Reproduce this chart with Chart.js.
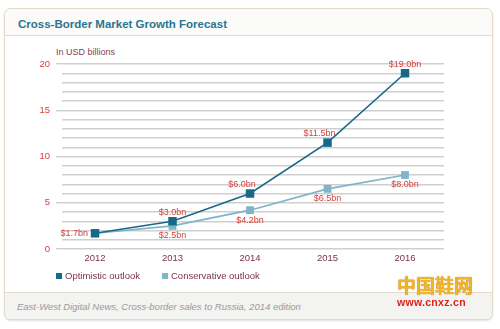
<!DOCTYPE html>
<html>
<head>
<meta charset="utf-8">
<script src="https://cdn.jsdelivr.net/npm/chart.js@4"></script>
<style>
  body { margin: 0; background: #fff; font-family: "Liberation Sans", Arial, sans-serif; }
  .wrap { position: relative; width: 500px; height: 329px; overflow: hidden; }
  .card { position: absolute; left: 4px; top: 8px; width: 487px; height: 310px;
    border: 1px solid #e3d9c6; border-radius: 7px; box-shadow: 0 1px 2px rgba(0,0,0,0.12); background: #fff; }
  .head { position: absolute; left: 0; top: 0; right: 0; height: 26px; border-bottom: 1px solid #e6dccb;
    background: #fbfbfa; border-radius: 7px 7px 0 0; }
  .head span { position: absolute; left: 13px; top: 9px; font-size: 11.5px; font-weight: bold; color: #2b7590; }
  .foot { position: absolute; left: 0; bottom: 0; right: 0; height: 26px; border-top: 1px solid #e6dccb;
    background: #f3f3f2; border-radius: 0 0 7px 7px; }
  .foot span { position: absolute; left: 12px; top: 8px; font-size: 9.5px; font-style: italic; color: #9a9a9a; }
  .unit { position: absolute; left: 56px; top: 47px; font-size: 9px; color: #8a3d55; }
  canvas { position: absolute; left: 0; top: 0; }
  .legend { position: absolute; top: 270px; font-size: 9.5px; color: #7a3050; }
  .legend i { display: inline-block; width: 6px; height: 6px; margin-right: 3px; vertical-align: 0px; }
  .wm { position: absolute; left: 397px; top: 274px; }
  .wm b { display: block; font-size: 19px; line-height: 22px; color: #f0b429; letter-spacing: 0px; text-shadow: 0 0 1px #b06a00; font-family: "Noto Sans CJK SC", sans-serif; }
  .wm em { display: block; font-style: normal; font-weight: bold; font-size: 10.5px; color: #e0211a; margin-top: 0px; letter-spacing: 0.3px; }
</style>
</head>
<body>
<div class="wrap">
  <div class="card">
    <div class="head"><span>Cross-Border Market Growth Forecast</span></div>
    <div class="foot"><span>East-West Digital News, Cross-border sales to Russia, 2014 edition</span></div>
  </div>
  <div class="unit">In USD billions</div>
  <canvas id="c" width="500" height="329"></canvas>
  <div class="legend" style="left:56px"><i style="background:#17698a"></i>Optimistic outlook</div>
  <div class="legend" style="left:162px"><i style="background:#7fb4c9"></i>Conservative outlook</div>
  <div class="wm"><b>中国鞋网</b><em>www.cnxz.cn</em></div>
</div>
<script>
const years = ["2012", "2013", "2014", "2015", "2016"];
const optimistic = [1.7, 3.0, 6.0, 11.5, 19.0];
const conservative = [1.7, 2.5, 4.2, 6.5, 8.0];
const optimisticLabels = ["$1.7bn", "$3.0bn", "$6.0bn", "$11.5bn", "$19.0bn"];
const conservativeLabels = ["", "$2.5bn", "$4.2bn", "$6.5bn", "$8.0bn"];

const valueLabels = {
  id: "valueLabels",
  afterDatasetsDraw(chart) {
    const ctx = chart.ctx;
    ctx.save();
    ctx.font = "9px 'Liberation Sans', Arial, sans-serif";
    ctx.fillStyle = "#d2423a";
    ctx.textAlign = "center";
    ctx.textBaseline = "middle";
    chart.getDatasetMeta(0).data.forEach((p, i) => {
      if (i === 0) {
        ctx.textAlign = "right";
        ctx.fillText(optimisticLabels[i], p.x - 7, p.y);
        ctx.textAlign = "center";
      } else {
        const dx = (i === 2 || i === 3) ? -8 : 0;
        ctx.fillText(optimisticLabels[i], p.x + dx, p.y - 9);
      }
    });
    chart.getDatasetMeta(1).data.forEach((p, i) => {
      if (conservativeLabels[i]) ctx.fillText(conservativeLabels[i], p.x, p.y + 10);
    });
    ctx.restore();
  }
};

new Chart(document.getElementById("c"), {
  type: "line",
  data: {
    datasets: [
      {
        label: "Optimistic outlook",
        data: optimistic.map((v, i) => ({ x: i, y: v })),
        borderColor: "#17698a",
        backgroundColor: "#17698a",
        borderWidth: 1.6,
        pointStyle: "rect",
        pointRadius: 6,
        pointBorderWidth: 0,
        order: 0
      },
      {
        label: "Conservative outlook",
        data: conservative.map((v, i) => ({ x: i, y: v })),
        borderColor: "#7fb4c9",
        backgroundColor: "#7fb4c9",
        borderWidth: 1.6,
        pointStyle: "rect",
        pointRadius: 5.5,
        pointBorderWidth: 0,
        order: 1
      }
    ]
  },
  options: {
    responsive: false,
    animation: false,
    events: [],
    layout: { padding: { left: 0, right: 56, top: 64, bottom: 64 } },
    plugins: { legend: { display: false }, tooltip: { enabled: false } },
    scales: {
      x: {
        type: "linear",
        min: -0.426,
        max: 4.503,
        afterBuildTicks: (s) => { s.ticks = years.map((y, i) => ({ value: i })); },
        afterFit: (s) => { s.height = 16; },
        grid: { display: false, drawTicks: false },
        border: { display: false },
        ticks: {
          callback: (v) => years[v],
          color: "#7a3050",
          padding: 4,
          maxRotation: 0,
          font: { family: "'Liberation Sans', Arial, sans-serif", size: 9.5 }
        }
      },
      y: {
        min: 0,
        max: 20,
        afterFit: (s) => { s.width = 62; },
        border: { display: false },
        grid: {
          color: "#cfcfcf",
          lineWidth: 1.4,
          tickLength: 6,
          tickColor: (c) => (c.tick && c.tick.value % 5 === 0 ? "#cfcfcf" : "rgba(0,0,0,0)")
        },
        ticks: {
          stepSize: 1,
          autoSkip: false,
          padding: 6,
          color: "#d2423a",
          callback: (v) => (v % 5 === 0 ? v : ""),
          font: { family: "'Liberation Sans', Arial, sans-serif", size: 9.5 }
        }
      }
    }
  },
  plugins: [valueLabels]
});
</script>
</body>
</html>
